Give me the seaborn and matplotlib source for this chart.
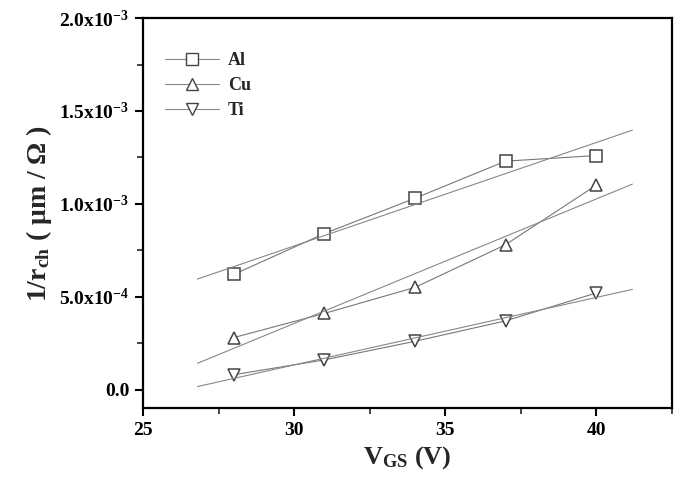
import matplotlib
matplotlib.use("Agg")
import matplotlib.pyplot as plt
import numpy as np
import pandas as pd
import seaborn as sns
from matplotlib.ticker import FixedLocator, FuncFormatter, MultipleLocator

# data
vgs = [28, 31, 34, 37, 40]
al = [0.62e-3, 0.84e-3, 1.03e-3, 1.23e-3, 1.26e-3]
cu = [0.28e-3, 0.41e-3, 0.55e-3, 0.78e-3, 1.10e-3]
ti = [0.08e-3, 0.16e-3, 0.26e-3, 0.37e-3, 0.52e-3]
metals = ["Al", "Cu", "Ti"]
fit_range = [26.8, 41.2]

sns.set_style("ticks")
plt.rcParams["font.family"] = ["Liberation Serif", "DejaVu Serif"]
plt.rcParams["font.weight"] = "bold"
plt.rcParams["mathtext.fontset"] = "custom"
plt.rcParams["mathtext.rm"] = "Liberation Serif:bold"
plt.rcParams["mathtext.it"] = "Liberation Serif:bold"
plt.rcParams["mathtext.bf"] = "Liberation Serif:bold"

df = pd.DataFrame({
    "vgs": vgs * 3,
    "val": al + cu + ti,
    "metal": np.repeat(metals, len(vgs)),
})

fig = plt.figure(figsize=(6.75, 4.9), dpi=100)
ax = fig.add_axes([0.212, 0.167, 0.783, 0.796])

sns.lineplot(
    data=df, x="vgs", y="val", style="metal",
    markers={"Al": "s", "Cu": "^", "Ti": "v"}, dashes=False,
    color="#777777", linewidth=0.8, markersize=8,
    markerfacecolor="white", markeredgecolor="#444444", markeredgewidth=1.1,
    ax=ax, legend=False,
)

# linear fits
xs = np.array(fit_range)
for ys in (al, cu, ti):
    k, b = np.polyfit(vgs, ys, 1)
    ax.plot(xs, k * xs + b, color="#888888", linewidth=0.8)

# legend
handles = []
for m, mk in zip(metals, ["s", "^", "v"]):
    h, = ax.plot([], [], color="#888888", linewidth=0.8, marker=mk, markersize=8,
                 markerfacecolor="white", markeredgecolor="#444444")
    handles.append(h)
ax.legend(handles, metals, loc="upper left", frameon=False, fontsize=13,
          bbox_to_anchor=(0.01, 0.955), handlelength=3.0, handletextpad=0.5,
          labelspacing=0.45, borderaxespad=0.5)

ax.set_xlim(25, 42.5)
ax.set_ylim(-0.1e-3, 2.0e-3)
ax.xaxis.set_major_locator(FixedLocator([25, 30, 35, 40]))
ax.xaxis.set_minor_locator(MultipleLocator(2.5))
ax.yaxis.set_major_locator(FixedLocator([0, 0.5e-3, 1.0e-3, 1.5e-3, 2.0e-3]))
ax.yaxis.set_minor_locator(MultipleLocator(0.25e-3))


def yfmt(v, pos):
    if abs(v) < 1e-12:
        return "0.0"
    exp = int(np.floor(np.log10(abs(v))))
    mant = v / 10 ** exp
    return f"{mant:.1f}x10$^{{{exp}}}$"


ax.yaxis.set_major_formatter(FuncFormatter(yfmt))

for s in ax.spines.values():
    s.set_linewidth(1.6)
    s.set_color("black")
ax.tick_params(which="major", direction="out", length=6, width=1.5,
               labelsize=14, colors="black", pad=4)
ax.tick_params(which="minor", direction="out", length=4, width=1.2)

ax.set_xlabel("V$_{GS}$ (V)", fontsize=19, fontweight="bold", labelpad=4)
ax.set_ylabel("1/r$_{ch}$ ( μm / Ω )", fontsize=20, fontweight="bold", labelpad=4)

fig.savefig("out.png", dpi=100)
